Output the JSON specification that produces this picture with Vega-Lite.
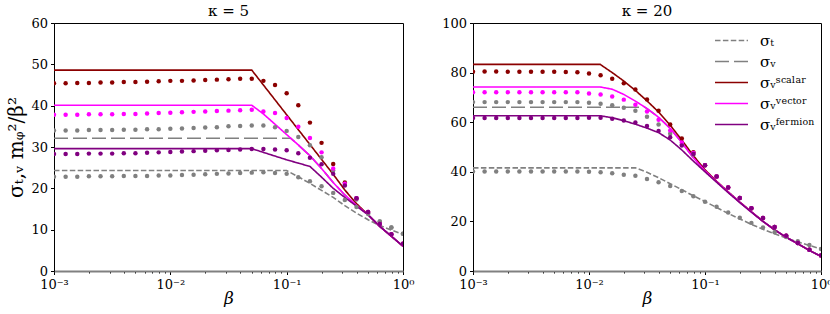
{
"$schema": "https://vega.github.io/schema/vega-lite/v6.json",
"padding": {"left": 6, "right": 2, "top": 3, "bottom": 0},
"config": {
  "view": {"stroke": "black", "strokeWidth": 1},
  "font": "DejaVu Serif",
  "axis": {"grid": false, "labelFont": "DejaVu Serif", "labelFontSize": 13, "labelColor": "black", "tickColor": "black", "domainColor": "black", "titleFont": "DejaVu Serif", "titleColor": "black", "titleFontWeight": "normal", "tickSize": 3.5, "labelPadding": 3},
  "title": {"font": "DejaVu Serif", "fontSize": 15, "fontWeight": "normal", "offset": 0, "dy": 6, "color": "black"}
},
"datasets": {
"lines": [
{"panel":"k5","series":"T","beta":0.001,"value":24.3},{"panel":"k5","series":"T","beta":0.1,"value":24.3},{"panel":"k5","series":"T","beta":0.1259,"value":22.8},{"panel":"k5","series":"T","beta":0.1585,"value":21.2},{"panel":"k5","series":"T","beta":0.1995,"value":19.5},{"panel":"k5","series":"T","beta":0.2512,"value":17.8},{"panel":"k5","series":"T","beta":0.3162,"value":15.8},{"panel":"k5","series":"T","beta":0.3981,"value":14.0},{"panel":"k5","series":"T","beta":0.5012,"value":12.4},{"panel":"k5","series":"T","beta":0.631,"value":11.0},{"panel":"k5","series":"T","beta":0.7943,"value":9.9},{"panel":"k5","series":"T","beta":1,"value":8.9},
{"panel":"k5","series":"V","beta":0.001,"value":32.1},{"panel":"k5","series":"V","beta":0.1086,"value":32.1},{"panel":"k5","series":"V","beta":0.1259,"value":30.5},{"panel":"k5","series":"V","beta":0.1585,"value":27.9},{"panel":"k5","series":"V","beta":0.1995,"value":24.8},{"panel":"k5","series":"V","beta":0.2512,"value":21.4},{"panel":"k5","series":"V","beta":0.3162,"value":18.4},{"panel":"k5","series":"V","beta":0.3981,"value":15.9},{"panel":"k5","series":"V","beta":0.5012,"value":13.6},{"panel":"k5","series":"V","beta":0.631,"value":10.8},{"panel":"k5","series":"V","beta":0.7943,"value":8.4},{"panel":"k5","series":"V","beta":1,"value":6.0},
{"panel":"k5","series":"scalar","beta":0.001,"value":48.6},{"panel":"k5","series":"scalar","beta":0.05012,"value":48.6},{"panel":"k5","series":"scalar","beta":0.0631,"value":45.0},{"panel":"k5","series":"scalar","beta":0.07943,"value":41.4},{"panel":"k5","series":"scalar","beta":0.1,"value":37.8},{"panel":"k5","series":"scalar","beta":0.1259,"value":34.2},{"panel":"k5","series":"scalar","beta":0.1585,"value":30.6},{"panel":"k5","series":"scalar","beta":0.1995,"value":27.0},{"panel":"k5","series":"scalar","beta":0.2512,"value":23.4},{"panel":"k5","series":"scalar","beta":0.3162,"value":19.6},{"panel":"k5","series":"scalar","beta":0.3981,"value":16.3},{"panel":"k5","series":"scalar","beta":0.5012,"value":13.6},{"panel":"k5","series":"scalar","beta":0.631,"value":10.8},{"panel":"k5","series":"scalar","beta":0.7943,"value":8.4},{"panel":"k5","series":"scalar","beta":1,"value":6.0},
{"panel":"k5","series":"vector","beta":0.001,"value":40.1},{"panel":"k5","series":"vector","beta":0.05012,"value":40.1},{"panel":"k5","series":"vector","beta":0.0631,"value":38.0},{"panel":"k5","series":"vector","beta":0.07943,"value":35.5},{"panel":"k5","series":"vector","beta":0.1,"value":33.0},{"panel":"k5","series":"vector","beta":0.1259,"value":30.5},{"panel":"k5","series":"vector","beta":0.1585,"value":27.9},{"panel":"k5","series":"vector","beta":0.1995,"value":24.8},{"panel":"k5","series":"vector","beta":0.2512,"value":21.4},{"panel":"k5","series":"vector","beta":0.3162,"value":18.4},{"panel":"k5","series":"vector","beta":0.3981,"value":15.9},{"panel":"k5","series":"vector","beta":0.5012,"value":13.6},{"panel":"k5","series":"vector","beta":0.631,"value":10.8},{"panel":"k5","series":"vector","beta":0.7943,"value":8.4},{"panel":"k5","series":"vector","beta":1,"value":6.0},
{"panel":"k5","series":"fermion","beta":0.001,"value":29.6},{"panel":"k5","series":"fermion","beta":0.05012,"value":29.6},{"panel":"k5","series":"fermion","beta":0.0631,"value":28.7},{"panel":"k5","series":"fermion","beta":0.07943,"value":27.8},{"panel":"k5","series":"fermion","beta":0.1,"value":26.9},{"panel":"k5","series":"fermion","beta":0.1259,"value":26.1},{"panel":"k5","series":"fermion","beta":0.1585,"value":25.3},{"panel":"k5","series":"fermion","beta":0.1995,"value":22.7},{"panel":"k5","series":"fermion","beta":0.2512,"value":20.0},{"panel":"k5","series":"fermion","beta":0.3162,"value":17.8},{"panel":"k5","series":"fermion","beta":0.3981,"value":15.7},{"panel":"k5","series":"fermion","beta":0.5012,"value":13.6},{"panel":"k5","series":"fermion","beta":0.631,"value":10.8},{"panel":"k5","series":"fermion","beta":0.7943,"value":8.4},{"panel":"k5","series":"fermion","beta":1,"value":6.0},
{"panel":"k20","series":"T","beta":0.001,"value":41.6},{"panel":"k20","series":"T","beta":0.02512,"value":41.6},{"panel":"k20","series":"T","beta":0.03162,"value":39.8},{"panel":"k20","series":"T","beta":0.03981,"value":37.6},{"panel":"k20","series":"T","beta":0.05012,"value":35.2},{"panel":"k20","series":"T","beta":0.0631,"value":32.8},{"panel":"k20","series":"T","beta":0.07943,"value":30.3},{"panel":"k20","series":"T","beta":0.1,"value":28.0},{"panel":"k20","series":"T","beta":0.1259,"value":25.6},{"panel":"k20","series":"T","beta":0.1585,"value":23.2},{"panel":"k20","series":"T","beta":0.1995,"value":21.0},{"panel":"k20","series":"T","beta":0.2512,"value":18.8},{"panel":"k20","series":"T","beta":0.3162,"value":16.8},{"panel":"k20","series":"T","beta":0.3981,"value":15.0},{"panel":"k20","series":"T","beta":0.5012,"value":13.3},{"panel":"k20","series":"T","beta":0.631,"value":11.7},{"panel":"k20","series":"T","beta":0.7943,"value":10.3},{"panel":"k20","series":"T","beta":1,"value":8.9},
{"panel":"k20","series":"V","beta":0.001,"value":66.0},{"panel":"k20","series":"V","beta":0.0304,"value":66.0},{"panel":"k20","series":"V","beta":0.03162,"value":65.5},{"panel":"k20","series":"V","beta":0.03981,"value":62.0},{"panel":"k20","series":"V","beta":0.05012,"value":57.5},{"panel":"k20","series":"V","beta":0.0631,"value":51.8},{"panel":"k20","series":"V","beta":0.07943,"value":45.6},{"panel":"k20","series":"V","beta":0.1,"value":40.4},{"panel":"k20","series":"V","beta":0.1259,"value":36.0},{"panel":"k20","series":"V","beta":0.1585,"value":31.8},{"panel":"k20","series":"V","beta":0.1995,"value":27.7},{"panel":"k20","series":"V","beta":0.2512,"value":23.8},{"panel":"k20","series":"V","beta":0.3162,"value":20.0},{"panel":"k20","series":"V","beta":0.3981,"value":16.6},{"panel":"k20","series":"V","beta":0.5012,"value":13.6},{"panel":"k20","series":"V","beta":0.631,"value":11.0},{"panel":"k20","series":"V","beta":0.7943,"value":8.3},{"panel":"k20","series":"V","beta":1,"value":5.9},
{"panel":"k20","series":"scalar","beta":0.001,"value":83.3},{"panel":"k20","series":"scalar","beta":0.0125,"value":83.3},{"panel":"k20","series":"scalar","beta":0.01585,"value":80.0},{"panel":"k20","series":"scalar","beta":0.01995,"value":76.6},{"panel":"k20","series":"scalar","beta":0.02512,"value":72.8},{"panel":"k20","series":"scalar","beta":0.03162,"value":68.6},{"panel":"k20","series":"scalar","beta":0.03981,"value":64.1},{"panel":"k20","series":"scalar","beta":0.05012,"value":58.8},{"panel":"k20","series":"scalar","beta":0.0631,"value":52.8},{"panel":"k20","series":"scalar","beta":0.07943,"value":46.5},{"panel":"k20","series":"scalar","beta":0.1,"value":40.8},{"panel":"k20","series":"scalar","beta":0.1259,"value":36.2},{"panel":"k20","series":"scalar","beta":0.1585,"value":31.9},{"panel":"k20","series":"scalar","beta":0.1995,"value":27.8},{"panel":"k20","series":"scalar","beta":0.2512,"value":23.9},{"panel":"k20","series":"scalar","beta":0.3162,"value":20.0},{"panel":"k20","series":"scalar","beta":0.3981,"value":16.6},{"panel":"k20","series":"scalar","beta":0.5012,"value":13.6},{"panel":"k20","series":"scalar","beta":0.631,"value":11.0},{"panel":"k20","series":"scalar","beta":0.7943,"value":8.3},{"panel":"k20","series":"scalar","beta":1,"value":5.9},
{"panel":"k20","series":"vector","beta":0.001,"value":74.2},{"panel":"k20","series":"vector","beta":0.0125,"value":74.2},{"panel":"k20","series":"vector","beta":0.01585,"value":73.3},{"panel":"k20","series":"vector","beta":0.01995,"value":71.2},{"panel":"k20","series":"vector","beta":0.02512,"value":68.5},{"panel":"k20","series":"vector","beta":0.03162,"value":65.5},{"panel":"k20","series":"vector","beta":0.03981,"value":62.0},{"panel":"k20","series":"vector","beta":0.05012,"value":57.5},{"panel":"k20","series":"vector","beta":0.0631,"value":51.8},{"panel":"k20","series":"vector","beta":0.07943,"value":45.6},{"panel":"k20","series":"vector","beta":0.1,"value":40.4},{"panel":"k20","series":"vector","beta":0.1259,"value":36.0},{"panel":"k20","series":"vector","beta":0.1585,"value":31.8},{"panel":"k20","series":"vector","beta":0.1995,"value":27.7},{"panel":"k20","series":"vector","beta":0.2512,"value":23.8},{"panel":"k20","series":"vector","beta":0.3162,"value":20.0},{"panel":"k20","series":"vector","beta":0.3981,"value":16.6},{"panel":"k20","series":"vector","beta":0.5012,"value":13.6},{"panel":"k20","series":"vector","beta":0.631,"value":11.0},{"panel":"k20","series":"vector","beta":0.7943,"value":8.3},{"panel":"k20","series":"vector","beta":1,"value":5.9},
{"panel":"k20","series":"fermion","beta":0.001,"value":62.6},{"panel":"k20","series":"fermion","beta":0.0125,"value":62.6},{"panel":"k20","series":"fermion","beta":0.01585,"value":61.8},{"panel":"k20","series":"fermion","beta":0.01995,"value":60.6},{"panel":"k20","series":"fermion","beta":0.02512,"value":59.2},{"panel":"k20","series":"fermion","beta":0.03162,"value":57.6},{"panel":"k20","series":"fermion","beta":0.03981,"value":55.8},{"panel":"k20","series":"fermion","beta":0.05012,"value":52.8},{"panel":"k20","series":"fermion","beta":0.0631,"value":48.8},{"panel":"k20","series":"fermion","beta":0.07943,"value":44.3},{"panel":"k20","series":"fermion","beta":0.1,"value":40.0},{"panel":"k20","series":"fermion","beta":0.1259,"value":35.8},{"panel":"k20","series":"fermion","beta":0.1585,"value":31.6},{"panel":"k20","series":"fermion","beta":0.1995,"value":27.6},{"panel":"k20","series":"fermion","beta":0.2512,"value":23.7},{"panel":"k20","series":"fermion","beta":0.3162,"value":20.0},{"panel":"k20","series":"fermion","beta":0.3981,"value":16.6},{"panel":"k20","series":"fermion","beta":0.5012,"value":13.6},{"panel":"k20","series":"fermion","beta":0.631,"value":11.0},{"panel":"k20","series":"fermion","beta":0.7943,"value":8.3},{"panel":"k20","series":"fermion","beta":1,"value":5.9}
],
"dots": [
{"panel":"k5","series":"T","beta":0.001,"value":22.8},{"panel":"k5","series":"T","beta":0.001259,"value":22.8},{"panel":"k5","series":"T","beta":0.001585,"value":22.8},{"panel":"k5","series":"T","beta":0.001995,"value":22.9},{"panel":"k5","series":"T","beta":0.002512,"value":22.9},{"panel":"k5","series":"T","beta":0.003162,"value":22.9},{"panel":"k5","series":"T","beta":0.003981,"value":23.0},{"panel":"k5","series":"T","beta":0.005012,"value":23.0},{"panel":"k5","series":"T","beta":0.00631,"value":23.0},{"panel":"k5","series":"T","beta":0.007943,"value":23.1},{"panel":"k5","series":"T","beta":0.01,"value":23.1},{"panel":"k5","series":"T","beta":0.01259,"value":23.2},{"panel":"k5","series":"T","beta":0.01585,"value":23.3},{"panel":"k5","series":"T","beta":0.01995,"value":23.4},{"panel":"k5","series":"T","beta":0.02512,"value":23.5},{"panel":"k5","series":"T","beta":0.03162,"value":23.6},{"panel":"k5","series":"T","beta":0.03981,"value":23.7},{"panel":"k5","series":"T","beta":0.05012,"value":23.8},{"panel":"k5","series":"T","beta":0.0631,"value":23.9},{"panel":"k5","series":"T","beta":0.07943,"value":23.7},{"panel":"k5","series":"T","beta":0.1,"value":23.5},{"panel":"k5","series":"T","beta":0.1259,"value":22.7},{"panel":"k5","series":"T","beta":0.1585,"value":21.7},{"panel":"k5","series":"T","beta":0.1995,"value":20.5},{"panel":"k5","series":"T","beta":0.2512,"value":18.9},{"panel":"k5","series":"T","beta":0.3162,"value":17.2},{"panel":"k5","series":"T","beta":0.3981,"value":15.5},{"panel":"k5","series":"T","beta":0.5012,"value":13.8},{"panel":"k5","series":"T","beta":0.631,"value":12.0},{"panel":"k5","series":"T","beta":0.7943,"value":10.5},{"panel":"k5","series":"T","beta":1,"value":9.0},
{"panel":"k5","series":"V","beta":0.001,"value":34.0},{"panel":"k5","series":"V","beta":0.001259,"value":34.0},{"panel":"k5","series":"V","beta":0.001585,"value":34.0},{"panel":"k5","series":"V","beta":0.001995,"value":34.1},{"panel":"k5","series":"V","beta":0.002512,"value":34.1},{"panel":"k5","series":"V","beta":0.003162,"value":34.1},{"panel":"k5","series":"V","beta":0.003981,"value":34.2},{"panel":"k5","series":"V","beta":0.005012,"value":34.2},{"panel":"k5","series":"V","beta":0.00631,"value":34.3},{"panel":"k5","series":"V","beta":0.007943,"value":34.3},{"panel":"k5","series":"V","beta":0.01,"value":34.4},{"panel":"k5","series":"V","beta":0.01259,"value":34.5},{"panel":"k5","series":"V","beta":0.01585,"value":34.6},{"panel":"k5","series":"V","beta":0.01995,"value":34.7},{"panel":"k5","series":"V","beta":0.02512,"value":34.8},{"panel":"k5","series":"V","beta":0.03162,"value":35.0},{"panel":"k5","series":"V","beta":0.03981,"value":35.1},{"panel":"k5","series":"V","beta":0.05012,"value":35.2},{"panel":"k5","series":"V","beta":0.0631,"value":35.2},{"panel":"k5","series":"V","beta":0.07943,"value":34.8},{"panel":"k5","series":"V","beta":0.1,"value":33.9},{"panel":"k5","series":"V","beta":0.1259,"value":32.4},{"panel":"k5","series":"V","beta":0.1585,"value":30.4},{"panel":"k5","series":"V","beta":0.1995,"value":27.5},{"panel":"k5","series":"V","beta":0.2512,"value":24.3},{"panel":"k5","series":"V","beta":0.3162,"value":20.8},{"panel":"k5","series":"V","beta":0.3981,"value":17.3},{"panel":"k5","series":"V","beta":0.5012,"value":14.0},{"panel":"k5","series":"V","beta":0.631,"value":12.0},{"panel":"k5","series":"V","beta":0.7943,"value":10.5},{"panel":"k5","series":"V","beta":1,"value":9.0},
{"panel":"k5","series":"scalar","beta":0.001,"value":45.4},{"panel":"k5","series":"scalar","beta":0.001259,"value":45.4},{"panel":"k5","series":"scalar","beta":0.001585,"value":45.5},{"panel":"k5","series":"scalar","beta":0.001995,"value":45.5},{"panel":"k5","series":"scalar","beta":0.002512,"value":45.6},{"panel":"k5","series":"scalar","beta":0.003162,"value":45.6},{"panel":"k5","series":"scalar","beta":0.003981,"value":45.7},{"panel":"k5","series":"scalar","beta":0.005012,"value":45.7},{"panel":"k5","series":"scalar","beta":0.00631,"value":45.8},{"panel":"k5","series":"scalar","beta":0.007943,"value":45.9},{"panel":"k5","series":"scalar","beta":0.01,"value":46.0},{"panel":"k5","series":"scalar","beta":0.01259,"value":46.0},{"panel":"k5","series":"scalar","beta":0.01585,"value":46.1},{"panel":"k5","series":"scalar","beta":0.01995,"value":46.2},{"panel":"k5","series":"scalar","beta":0.02512,"value":46.3},{"panel":"k5","series":"scalar","beta":0.03162,"value":46.4},{"panel":"k5","series":"scalar","beta":0.03981,"value":46.5},{"panel":"k5","series":"scalar","beta":0.05012,"value":46.5},{"panel":"k5","series":"scalar","beta":0.0631,"value":46.0},{"panel":"k5","series":"scalar","beta":0.07943,"value":45.0},{"panel":"k5","series":"scalar","beta":0.1,"value":43.0},{"panel":"k5","series":"scalar","beta":0.1259,"value":40.1},{"panel":"k5","series":"scalar","beta":0.1585,"value":35.9},{"panel":"k5","series":"scalar","beta":0.1995,"value":31.0},{"panel":"k5","series":"scalar","beta":0.2512,"value":25.9},{"panel":"k5","series":"scalar","beta":0.3162,"value":21.4},{"panel":"k5","series":"scalar","beta":0.3981,"value":17.6},{"panel":"k5","series":"scalar","beta":0.5012,"value":14.3},{"panel":"k5","series":"scalar","beta":0.631,"value":11.4},{"panel":"k5","series":"scalar","beta":0.7943,"value":8.9},{"panel":"k5","series":"scalar","beta":1,"value":6.6},
{"panel":"k5","series":"vector","beta":0.001,"value":37.8},{"panel":"k5","series":"vector","beta":0.001259,"value":37.8},{"panel":"k5","series":"vector","beta":0.001585,"value":37.8},{"panel":"k5","series":"vector","beta":0.001995,"value":37.9},{"panel":"k5","series":"vector","beta":0.002512,"value":37.9},{"panel":"k5","series":"vector","beta":0.003162,"value":37.9},{"panel":"k5","series":"vector","beta":0.003981,"value":38.0},{"panel":"k5","series":"vector","beta":0.005012,"value":38.0},{"panel":"k5","series":"vector","beta":0.00631,"value":38.1},{"panel":"k5","series":"vector","beta":0.007943,"value":38.2},{"panel":"k5","series":"vector","beta":0.01,"value":38.3},{"panel":"k5","series":"vector","beta":0.01259,"value":38.4},{"panel":"k5","series":"vector","beta":0.01585,"value":38.5},{"panel":"k5","series":"vector","beta":0.01995,"value":38.6},{"panel":"k5","series":"vector","beta":0.02512,"value":38.7},{"panel":"k5","series":"vector","beta":0.03162,"value":38.8},{"panel":"k5","series":"vector","beta":0.03981,"value":38.9},{"panel":"k5","series":"vector","beta":0.05012,"value":39.0},{"panel":"k5","series":"vector","beta":0.0631,"value":38.6},{"panel":"k5","series":"vector","beta":0.07943,"value":38.2},{"panel":"k5","series":"vector","beta":0.1,"value":37.0},{"panel":"k5","series":"vector","beta":0.1259,"value":34.9},{"panel":"k5","series":"vector","beta":0.1585,"value":32.2},{"panel":"k5","series":"vector","beta":0.1995,"value":28.7},{"panel":"k5","series":"vector","beta":0.2512,"value":24.8},{"panel":"k5","series":"vector","beta":0.3162,"value":21.1},{"panel":"k5","series":"vector","beta":0.3981,"value":17.6},{"panel":"k5","series":"vector","beta":0.5012,"value":14.3},{"panel":"k5","series":"vector","beta":0.631,"value":11.4},{"panel":"k5","series":"vector","beta":0.7943,"value":8.9},{"panel":"k5","series":"vector","beta":1,"value":6.6},
{"panel":"k5","series":"fermion","beta":0.001,"value":28.3},{"panel":"k5","series":"fermion","beta":0.001259,"value":28.3},{"panel":"k5","series":"fermion","beta":0.001585,"value":28.3},{"panel":"k5","series":"fermion","beta":0.001995,"value":28.4},{"panel":"k5","series":"fermion","beta":0.002512,"value":28.4},{"panel":"k5","series":"fermion","beta":0.003162,"value":28.4},{"panel":"k5","series":"fermion","beta":0.003981,"value":28.5},{"panel":"k5","series":"fermion","beta":0.005012,"value":28.5},{"panel":"k5","series":"fermion","beta":0.00631,"value":28.6},{"panel":"k5","series":"fermion","beta":0.007943,"value":28.7},{"panel":"k5","series":"fermion","beta":0.01,"value":28.8},{"panel":"k5","series":"fermion","beta":0.01259,"value":28.9},{"panel":"k5","series":"fermion","beta":0.01585,"value":29.0},{"panel":"k5","series":"fermion","beta":0.01995,"value":29.1},{"panel":"k5","series":"fermion","beta":0.02512,"value":29.2},{"panel":"k5","series":"fermion","beta":0.03162,"value":29.3},{"panel":"k5","series":"fermion","beta":0.03981,"value":29.4},{"panel":"k5","series":"fermion","beta":0.05012,"value":29.5},{"panel":"k5","series":"fermion","beta":0.0631,"value":29.5},{"panel":"k5","series":"fermion","beta":0.07943,"value":29.4},{"panel":"k5","series":"fermion","beta":0.1,"value":29.2},{"panel":"k5","series":"fermion","beta":0.1259,"value":28.5},{"panel":"k5","series":"fermion","beta":0.1585,"value":27.4},{"panel":"k5","series":"fermion","beta":0.1995,"value":25.8},{"panel":"k5","series":"fermion","beta":0.2512,"value":23.5},{"panel":"k5","series":"fermion","beta":0.3162,"value":20.7},{"panel":"k5","series":"fermion","beta":0.3981,"value":17.6},{"panel":"k5","series":"fermion","beta":0.5012,"value":14.3},{"panel":"k5","series":"fermion","beta":0.631,"value":11.4},{"panel":"k5","series":"fermion","beta":0.7943,"value":8.9},{"panel":"k5","series":"fermion","beta":1,"value":6.6},
{"panel":"k20","series":"T","beta":0.001,"value":40.1},{"panel":"k20","series":"T","beta":0.001259,"value":40.1},{"panel":"k20","series":"T","beta":0.001585,"value":40.1},{"panel":"k20","series":"T","beta":0.001995,"value":40.1},{"panel":"k20","series":"T","beta":0.002512,"value":40.1},{"panel":"k20","series":"T","beta":0.003162,"value":40.1},{"panel":"k20","series":"T","beta":0.003981,"value":40.1},{"panel":"k20","series":"T","beta":0.005012,"value":40.1},{"panel":"k20","series":"T","beta":0.00631,"value":40.1},{"panel":"k20","series":"T","beta":0.007943,"value":40.1},{"panel":"k20","series":"T","beta":0.01,"value":40.0},{"panel":"k20","series":"T","beta":0.01259,"value":39.8},{"panel":"k20","series":"T","beta":0.01585,"value":39.4},{"panel":"k20","series":"T","beta":0.01995,"value":38.8},{"panel":"k20","series":"T","beta":0.02512,"value":38.4},{"panel":"k20","series":"T","beta":0.03162,"value":37.1},{"panel":"k20","series":"T","beta":0.03981,"value":35.8},{"panel":"k20","series":"T","beta":0.05012,"value":34.3},{"panel":"k20","series":"T","beta":0.0631,"value":32.3},{"panel":"k20","series":"T","beta":0.07943,"value":30.1},{"panel":"k20","series":"T","beta":0.1,"value":27.9},{"panel":"k20","series":"T","beta":0.1259,"value":25.9},{"panel":"k20","series":"T","beta":0.1585,"value":23.6},{"panel":"k20","series":"T","beta":0.1995,"value":21.5},{"panel":"k20","series":"T","beta":0.2512,"value":19.4},{"panel":"k20","series":"T","beta":0.3162,"value":17.5},{"panel":"k20","series":"T","beta":0.3981,"value":15.6},{"panel":"k20","series":"T","beta":0.5012,"value":13.7},{"panel":"k20","series":"T","beta":0.631,"value":12.0},{"panel":"k20","series":"T","beta":0.7943,"value":10.5},{"panel":"k20","series":"T","beta":1,"value":8.9},
{"panel":"k20","series":"V","beta":0.001,"value":68.1},{"panel":"k20","series":"V","beta":0.001259,"value":68.1},{"panel":"k20","series":"V","beta":0.001585,"value":68.1},{"panel":"k20","series":"V","beta":0.001995,"value":68.1},{"panel":"k20","series":"V","beta":0.002512,"value":68.1},{"panel":"k20","series":"V","beta":0.003162,"value":68.1},{"panel":"k20","series":"V","beta":0.003981,"value":68.1},{"panel":"k20","series":"V","beta":0.005012,"value":68.1},{"panel":"k20","series":"V","beta":0.00631,"value":68.1},{"panel":"k20","series":"V","beta":0.007943,"value":68.1},{"panel":"k20","series":"V","beta":0.01,"value":67.8},{"panel":"k20","series":"V","beta":0.01259,"value":67.4},{"panel":"k20","series":"V","beta":0.01585,"value":66.8},{"panel":"k20","series":"V","beta":0.01995,"value":65.8},{"panel":"k20","series":"V","beta":0.02512,"value":64.6},{"panel":"k20","series":"V","beta":0.03162,"value":62.2},{"panel":"k20","series":"V","beta":0.03981,"value":59.1},{"panel":"k20","series":"V","beta":0.05012,"value":55.3},{"panel":"k20","series":"V","beta":0.0631,"value":51.0},{"panel":"k20","series":"V","beta":0.07943,"value":47.0},{"panel":"k20","series":"V","beta":0.1,"value":42.6},{"panel":"k20","series":"V","beta":0.1259,"value":38.1},{"panel":"k20","series":"V","beta":0.1585,"value":33.7},{"panel":"k20","series":"V","beta":0.1995,"value":29.4},{"panel":"k20","series":"V","beta":0.2512,"value":25.3},{"panel":"k20","series":"V","beta":0.3162,"value":21.4},{"panel":"k20","series":"V","beta":0.3981,"value":17.7},{"panel":"k20","series":"V","beta":0.5012,"value":14.2},{"panel":"k20","series":"V","beta":0.631,"value":11.3},{"panel":"k20","series":"V","beta":0.7943,"value":8.6},{"panel":"k20","series":"V","beta":1,"value":6.3},
{"panel":"k20","series":"scalar","beta":0.001,"value":80.3},{"panel":"k20","series":"scalar","beta":0.001259,"value":80.4},{"panel":"k20","series":"scalar","beta":0.001585,"value":80.4},{"panel":"k20","series":"scalar","beta":0.001995,"value":80.3},{"panel":"k20","series":"scalar","beta":0.002512,"value":80.3},{"panel":"k20","series":"scalar","beta":0.003162,"value":80.3},{"panel":"k20","series":"scalar","beta":0.003981,"value":80.3},{"panel":"k20","series":"scalar","beta":0.005012,"value":80.3},{"panel":"k20","series":"scalar","beta":0.00631,"value":80.2},{"panel":"k20","series":"scalar","beta":0.007943,"value":80.1},{"panel":"k20","series":"scalar","beta":0.01,"value":79.6},{"panel":"k20","series":"scalar","beta":0.01259,"value":78.9},{"panel":"k20","series":"scalar","beta":0.01585,"value":77.5},{"panel":"k20","series":"scalar","beta":0.01995,"value":75.7},{"panel":"k20","series":"scalar","beta":0.02512,"value":73.2},{"panel":"k20","series":"scalar","beta":0.03162,"value":69.2},{"panel":"k20","series":"scalar","beta":0.03981,"value":64.6},{"panel":"k20","series":"scalar","beta":0.05012,"value":59.1},{"panel":"k20","series":"scalar","beta":0.0631,"value":53.4},{"panel":"k20","series":"scalar","beta":0.07943,"value":47.9},{"panel":"k20","series":"scalar","beta":0.1,"value":42.6},{"panel":"k20","series":"scalar","beta":0.1259,"value":38.1},{"panel":"k20","series":"scalar","beta":0.1585,"value":33.7},{"panel":"k20","series":"scalar","beta":0.1995,"value":29.4},{"panel":"k20","series":"scalar","beta":0.2512,"value":25.3},{"panel":"k20","series":"scalar","beta":0.3162,"value":21.4},{"panel":"k20","series":"scalar","beta":0.3981,"value":17.7},{"panel":"k20","series":"scalar","beta":0.5012,"value":14.2},{"panel":"k20","series":"scalar","beta":0.631,"value":11.3},{"panel":"k20","series":"scalar","beta":0.7943,"value":8.6},{"panel":"k20","series":"scalar","beta":1,"value":6.3},
{"panel":"k20","series":"vector","beta":0.001,"value":72.1},{"panel":"k20","series":"vector","beta":0.001259,"value":72.1},{"panel":"k20","series":"vector","beta":0.001585,"value":72.1},{"panel":"k20","series":"vector","beta":0.001995,"value":72.1},{"panel":"k20","series":"vector","beta":0.002512,"value":72.1},{"panel":"k20","series":"vector","beta":0.003162,"value":72.1},{"panel":"k20","series":"vector","beta":0.003981,"value":72.1},{"panel":"k20","series":"vector","beta":0.005012,"value":72.1},{"panel":"k20","series":"vector","beta":0.00631,"value":72.1},{"panel":"k20","series":"vector","beta":0.007943,"value":72.1},{"panel":"k20","series":"vector","beta":0.01,"value":71.6},{"panel":"k20","series":"vector","beta":0.01259,"value":71.2},{"panel":"k20","series":"vector","beta":0.01585,"value":70.4},{"panel":"k20","series":"vector","beta":0.01995,"value":69.1},{"panel":"k20","series":"vector","beta":0.02512,"value":67.0},{"panel":"k20","series":"vector","beta":0.03162,"value":64.3},{"panel":"k20","series":"vector","beta":0.03981,"value":61.0},{"panel":"k20","series":"vector","beta":0.05012,"value":56.7},{"panel":"k20","series":"vector","beta":0.0631,"value":51.8},{"panel":"k20","series":"vector","beta":0.07943,"value":47.6},{"panel":"k20","series":"vector","beta":0.1,"value":42.6},{"panel":"k20","series":"vector","beta":0.1259,"value":38.1},{"panel":"k20","series":"vector","beta":0.1585,"value":33.7},{"panel":"k20","series":"vector","beta":0.1995,"value":29.4},{"panel":"k20","series":"vector","beta":0.2512,"value":25.3},{"panel":"k20","series":"vector","beta":0.3162,"value":21.4},{"panel":"k20","series":"vector","beta":0.3981,"value":17.7},{"panel":"k20","series":"vector","beta":0.5012,"value":14.2},{"panel":"k20","series":"vector","beta":0.631,"value":11.3},{"panel":"k20","series":"vector","beta":0.7943,"value":8.6},{"panel":"k20","series":"vector","beta":1,"value":6.3},
{"panel":"k20","series":"fermion","beta":0.001,"value":61.7},{"panel":"k20","series":"fermion","beta":0.001259,"value":61.7},{"panel":"k20","series":"fermion","beta":0.001585,"value":61.7},{"panel":"k20","series":"fermion","beta":0.001995,"value":61.7},{"panel":"k20","series":"fermion","beta":0.002512,"value":61.7},{"panel":"k20","series":"fermion","beta":0.003162,"value":61.7},{"panel":"k20","series":"fermion","beta":0.003981,"value":61.7},{"panel":"k20","series":"fermion","beta":0.005012,"value":61.7},{"panel":"k20","series":"fermion","beta":0.00631,"value":61.7},{"panel":"k20","series":"fermion","beta":0.007943,"value":61.7},{"panel":"k20","series":"fermion","beta":0.01,"value":61.8},{"panel":"k20","series":"fermion","beta":0.01259,"value":61.8},{"panel":"k20","series":"fermion","beta":0.01585,"value":61.4},{"panel":"k20","series":"fermion","beta":0.01995,"value":60.7},{"panel":"k20","series":"fermion","beta":0.02512,"value":59.9},{"panel":"k20","series":"fermion","beta":0.03162,"value":58.5},{"panel":"k20","series":"fermion","beta":0.03981,"value":56.5},{"panel":"k20","series":"fermion","beta":0.05012,"value":53.9},{"panel":"k20","series":"fermion","beta":0.0631,"value":50.6},{"panel":"k20","series":"fermion","beta":0.07943,"value":47.2},{"panel":"k20","series":"fermion","beta":0.1,"value":42.6},{"panel":"k20","series":"fermion","beta":0.1259,"value":38.1},{"panel":"k20","series":"fermion","beta":0.1585,"value":33.7},{"panel":"k20","series":"fermion","beta":0.1995,"value":29.4},{"panel":"k20","series":"fermion","beta":0.2512,"value":25.3},{"panel":"k20","series":"fermion","beta":0.3162,"value":21.4},{"panel":"k20","series":"fermion","beta":0.3981,"value":17.7},{"panel":"k20","series":"fermion","beta":0.5012,"value":14.2},{"panel":"k20","series":"fermion","beta":0.631,"value":11.3},{"panel":"k20","series":"fermion","beta":0.7943,"value":8.6},{"panel":"k20","series":"fermion","beta":1,"value":6.3}
]
},
"spacing": 70,
"bounds": "flush",
"resolve": {"scale": {"color": "independent", "strokeDash": "independent"}},
"hconcat": [
{
 "width": 349, "height": 248,
 "title": "κ = 5",
 "layer": [
  {"data": {"name": "lines"}, "transform": [{"filter": "datum.panel == 'k5'"}],
   "mark": {"type": "line", "strokeWidth": 1.6, "clip": true},
   "encoding": {
    "x": {"field": "beta", "type": "quantitative", "scale": {"type": "log", "domain": [0.001, 1], "nice": false},
      "axis": {"title": "β", "titleFontStyle": "italic", "titleFontSize": 17, "titlePadding": -1, "labelPadding": 4, "values": [0.001,0.002,0.003,0.004,0.005,0.006,0.007,0.008,0.009,0.01,0.02,0.03,0.04,0.05,0.06,0.07,0.08,0.09,0.1,0.2,0.3,0.4,0.5,0.6,0.7,0.8,0.9,1],
        "labelExpr": "datum.value == 0.001 ? '10⁻³' : datum.value == 0.01 ? '10⁻²' : datum.value == 0.1 ? '10⁻¹' : datum.value == 1 ? '10⁰' : ''",
        "labelOverlap": false, "labelFlush": false,
        "tickSize": {"condition": {"test": "datum.value == 0.001 || datum.value == 0.01 || datum.value == 0.1 || datum.value == 1", "value": 3.5}, "value": 2},
        "domainColor": "#808080", "domainWidth": 2}},
    "y": {"field": "value", "type": "quantitative", "scale": {"domain": [0, 60], "nice": false},
      "axis": {"title": "σₜ,ᵥ mᵩ²/β²", "titleFontSize": 20, "titlePadding": 4, "values": [0,10,20,30,40,50,60]}},
    "color": {"field": "series", "type": "nominal", "scale": {"domain": ["T","V","scalar","vector","fermion"], "range": ["#808080","#808080","#8b0000","#ff00ff","#800080"]}, "legend": null},
    "strokeDash": {"field": "series", "type": "nominal", "scale": {"domain": ["T","V","scalar","vector","fermion"], "range": [[5.5,2.4],[14,5],[1,0],[1,0],[1,0]]}, "legend": null}
   }},
  {"data": {"name": "dots"}, "transform": [{"filter": "datum.panel == 'k5'"}],
   "mark": {"type": "point", "filled": true, "size": 20, "opacity": 1, "clip": true},
   "encoding": {
    "x": {"field": "beta", "type": "quantitative"},
    "y": {"field": "value", "type": "quantitative"},
    "color": {"field": "series", "type": "nominal", "legend": null}
   }}
 ]
},
{
 "width": 348, "height": 248,
 "title": "κ = 20",
 "layer": [
  {"data": {"name": "lines"}, "transform": [{"filter": "datum.panel == 'k20'"}],
   "mark": {"type": "line", "strokeWidth": 1.6, "clip": true},
   "encoding": {
    "x": {"field": "beta", "type": "quantitative", "scale": {"type": "log", "domain": [0.001, 1], "nice": false},
      "axis": {"title": "β", "titleFontStyle": "italic", "titleFontSize": 17, "titlePadding": -1, "labelPadding": 4, "values": [0.001,0.002,0.003,0.004,0.005,0.006,0.007,0.008,0.009,0.01,0.02,0.03,0.04,0.05,0.06,0.07,0.08,0.09,0.1,0.2,0.3,0.4,0.5,0.6,0.7,0.8,0.9,1],
        "labelExpr": "datum.value == 0.001 ? '10⁻³' : datum.value == 0.01 ? '10⁻²' : datum.value == 0.1 ? '10⁻¹' : datum.value == 1 ? '10⁰' : ''",
        "labelOverlap": false, "labelFlush": false,
        "tickSize": {"condition": {"test": "datum.value == 0.001 || datum.value == 0.01 || datum.value == 0.1 || datum.value == 1", "value": 3.5}, "value": 2},
        "domainColor": "#808080", "domainWidth": 2}},
    "y": {"field": "value", "type": "quantitative", "scale": {"domain": [0, 100], "nice": false},
      "axis": {"title": null, "values": [0,20,40,60,80,100]}},
    "color": {"field": "series", "type": "nominal", "scale": {"domain": ["T","V","scalar","vector","fermion"], "range": ["#808080","#808080","#8b0000","#ff00ff","#800080"]},
      "legend": {"orient": "none", "legendX": 249, "legendY": 8, "padding": 0, "title": null, "labelFont": "DejaVu Serif", "labelFontSize": 15, "labelColor": "black", "symbolType": "M-2,0H2", "symbolSize": 272, "symbolStrokeWidth": 1.6, "symbolFillColor": "transparent", "rowPadding": 3, "labelOffset": 19,
        "labelExpr": "datum.value == 'T' ? 'σₜ' : datum.value == 'V' ? 'σᵥ' : datum.value == 'scalar' ? 'σᵥˢᶜᵃˡᵃʳ' : datum.value == 'vector' ? 'σᵥᵛᵉᶜᵗᵒʳ' : 'σᵥᶠᵉʳᵐⁱᵒⁿ'"}},
    "strokeDash": {"field": "series", "type": "nominal", "scale": {"domain": ["T","V","scalar","vector","fermion"], "range": [[5.5,2.4],[14,5],[1,0],[1,0],[1,0]]},
      "legend": {"orient": "none", "legendX": 249, "legendY": 8, "padding": 0, "title": null, "labelFont": "DejaVu Serif", "labelFontSize": 15, "labelColor": "black", "symbolType": "M-2,0H2", "symbolSize": 272, "symbolStrokeWidth": 1.6, "symbolFillColor": "transparent", "rowPadding": 3, "labelOffset": 19,
        "labelExpr": "datum.value == 'T' ? 'σₜ' : datum.value == 'V' ? 'σᵥ' : datum.value == 'scalar' ? 'σᵥˢᶜᵃˡᵃʳ' : datum.value == 'vector' ? 'σᵥᵛᵉᶜᵗᵒʳ' : 'σᵥᶠᵉʳᵐⁱᵒⁿ'"}}
   }},
  {"data": {"name": "dots"}, "transform": [{"filter": "datum.panel == 'k20'"}],
   "mark": {"type": "point", "filled": true, "size": 20, "opacity": 1, "clip": true},
   "encoding": {
    "x": {"field": "beta", "type": "quantitative"},
    "y": {"field": "value", "type": "quantitative"},
    "color": {"field": "series", "type": "nominal", "legend": null}
   }}
 ]
}
]
}
